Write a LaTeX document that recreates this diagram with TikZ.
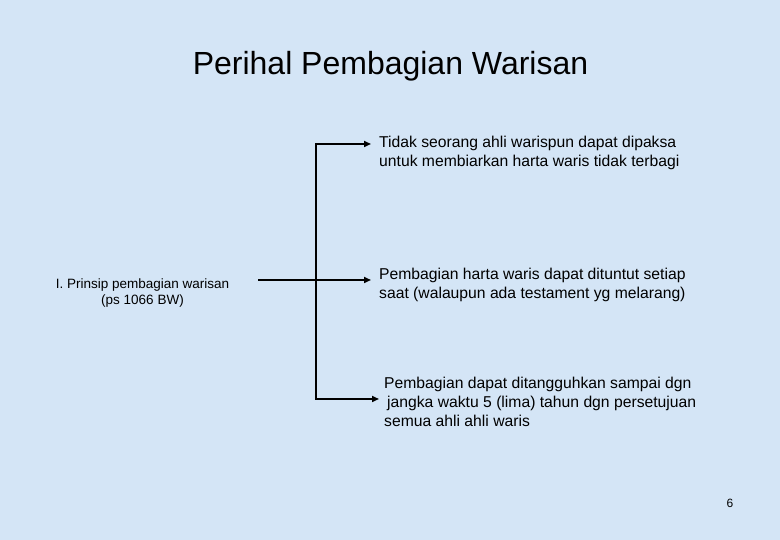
\documentclass[tikz,border=0pt]{standalone}
\usepackage{fontspec}
\setmainfont{Liberation Sans}
\usetikzlibrary{arrows.meta}
\definecolor{bgblue}{RGB}{212,229,246}
\tikzset{
  txt/.style={inner sep=0pt, align=left, anchor=north west, font=\fontsize{15.7}{19}\selectfont},
  lefttxt/.style={inner sep=0pt, align=center, anchor=north, font=\fontsize{13.5}{16}\selectfont},
  conn/.style={line width=1.6pt, draw=black},
  tip/.style={-{Triangle[length=7pt,width=6pt]}}
}
\begin{document}
\begin{tikzpicture}[x=1pt,y=1pt]
\fill[bgblue] (0,0) rectangle (780,540);
\useasboundingbox (0,0) rectangle (780,540);
% title
\node[inner sep=0pt, anchor=base, font=\fontsize{32}{36}\selectfont] (title) at (390.5,465) {Perihal Pembagian Warisan};
% left block
\node[lefttxt] (a) at (142.5,261) {I. Prinsip pembagian warisan\\(ps 1066 BW)};
% right blocks
\node[txt] (t1) at (379,404.5) {Tidak seorang ahli warispun dapat dipaksa\\untuk membiarkan harta waris tidak terbagi};
\node[txt] (t2) at (379,272.5) {Pembagian harta waris dapat dituntut setiap\\saat (walaupun ada testament yg melarang)};
\node[txt] (t3) at (384,163.5) {Pembagian dapat ditangguhkan sampai dgn\\\hspace{3pt}jangka waktu 5 (lima) tahun dgn persetujuan\\semua ahli ahli waris};
% page number
\node[inner sep=0pt, anchor=base, font=\fontsize{12}{14}\selectfont] (pg) at (730,32) {6};
% connectors
\coordinate (s) at (258,260);
\coordinate (e1) at (371,396);
\coordinate (e2) at (371,260);
\coordinate (j3) at (316,141);
\coordinate (e3) at (379,141);
\draw[conn, tip] (s) -- (e2);
\draw[conn, {Triangle[length=7pt,width=6pt]}-{Triangle[length=7pt,width=6pt]}] (e1) -| (j3) -- (e3);
\end{tikzpicture}
\end{document}
